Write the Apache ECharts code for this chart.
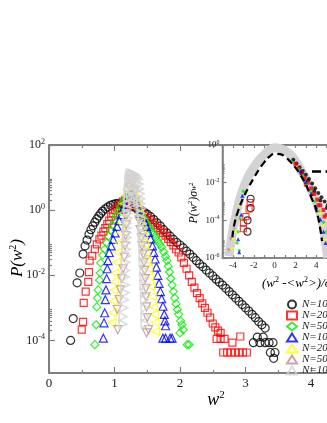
<!DOCTYPE html>
<html><head><meta charset="utf-8">
<script src="https://cdn.jsdelivr.net/npm/echarts@6/dist/echarts.min.js"></script>
<style>html,body{margin:0;padding:0;background:#fff}#c{width:327px;height:423px}</style>
</head><body><div id="c"></div>
<script>
// ---------- data (x = w^2, y = log10 P) ----------
const seriesNames = ['N=100','N=200','N=500','N=1000','N=2000','N=5000','N=10000'];
const seriesColors = ['#000000','#ff0000','#00ee00','#0000ff','#ffff00','#bc8f8f','#d3d3d3'];
const seriesSymbols = ['circle','rect','diamond','triangle','triangle','triangle','triangle'];
const seriesRotate = [0,0,0,0,90,180,-90];

const mainXTicks = [0,1,2,3,4,5];
const mainYLabels = [-4,-2,0,2];
const insetXLabels = [-4,-2,0,2,4,6];
const insetYLabels = [-6,-4,-2,0];

const n100 = [[0.33,-4.0],[0.37,-3.33],[0.43,-2.23],[0.47,-1.93],[0.52,-1.35],[0.55,-1.1],[0.58,-0.92],[0.61,-0.74],[0.64,-0.6],[0.67,-0.48],[0.70,-0.37],[0.73,-0.27],[0.76,-0.18],[0.79,-0.1],[0.82,-0.03],[0.86,0.04],[0.90,0.1],[0.94,0.15],[0.98,0.18],[1.02,0.2],[1.06,0.21],[1.10,0.21],[1.14,0.2],[1.18,0.18],[1.22,0.16],[1.26,0.13],[1.30,0.1],[1.34,0.06],[1.38,0.02],[1.42,-0.03],[1.46,-0.07],[1.50,-0.12],[1.55,-0.2],[1.60,-0.29],[1.65,-0.39],[1.70,-0.49],[1.75,-0.6],[1.80,-0.7],[1.85,-0.8],[1.90,-0.9],[1.95,-0.99],[2.00,-1.07],[2.05,-1.16],[2.10,-1.26],[2.15,-1.35],[2.20,-1.45],[2.25,-1.55],[2.30,-1.65],[2.35,-1.74],[2.40,-1.84],[2.45,-1.93],[2.50,-2.02],[2.55,-2.12],[2.60,-2.21],[2.65,-2.3],[2.70,-2.4],[2.75,-2.5],[2.80,-2.6],[2.85,-2.7],[2.90,-2.8],[2.95,-2.9],[3.00,-3.0],[3.05,-3.1],[3.10,-3.2],[3.15,-3.3],[3.20,-3.42],[3.25,-3.52],[3.30,-3.62],[3.18,-3.9],[3.27,-3.9],[3.12,-4.07],[3.22,-4.07],[3.30,-4.07],[3.36,-4.07],[3.42,-4.07],[3.38,-4.37],[3.45,-4.37],[3.43,-4.55]];
const n200 = [[0.50,-3.67],[0.52,-3.43],[0.53,-2.85],[0.56,-2.5],[0.60,-2.2],[0.61,-1.9],[0.62,-1.55],[0.66,-1.4],[0.70,-1.2],[0.73,-1.05],[0.77,-0.9],[0.80,-0.78],[0.83,-0.66],[0.86,-0.55],[0.89,-0.43],[0.92,-0.32],[0.95,-0.2],[0.98,-0.1],[1.01,0.0],[1.04,0.08],[1.07,0.15],[1.10,0.21],[1.13,0.26],[1.16,0.3],[1.19,0.32],[1.22,0.31],[1.25,0.28],[1.28,0.22],[1.31,0.15],[1.34,0.08],[1.38,0.0],[1.42,-0.08],[1.46,-0.16],[1.50,-0.24],[1.54,-0.3],[1.58,-0.38],[1.62,-0.46],[1.66,-0.55],[1.70,-0.62],[1.74,-0.7],[1.78,-0.78],[1.82,-0.88],[1.86,-0.98],[1.90,-1.08],[1.94,-1.2],[1.98,-1.3],[2.02,-1.45],[2.06,-1.62],[2.10,-1.8],[2.14,-2.0],[2.18,-2.2],[2.22,-2.38],[2.26,-2.55],[2.30,-2.7],[2.34,-2.86],[2.38,-3.0],[2.42,-3.15],[2.46,-3.3],[2.50,-3.48],[2.54,-3.6],[2.58,-3.7],[2.62,-3.77],[2.56,-3.95],[2.62,-3.95],[2.68,-3.95],[2.80,-4.07],[2.92,-3.88],[2.66,-4.37],[2.72,-4.37],[2.78,-4.37],[2.84,-4.37],[2.90,-4.37],[2.96,-4.37],[3.02,-4.37]];
const n500 = [[0.70,-4.13],[0.72,-3.52],[0.73,-2.97],[0.74,-2.7],[0.75,-2.45],[0.77,-2.15],[0.78,-1.93],[0.79,-1.62],[0.82,-1.38],[0.85,-1.2],[0.88,-1.0],[0.91,-0.8],[0.94,-0.62],[0.97,-0.46],[1.00,-0.3],[1.03,-0.16],[1.06,-0.03],[1.09,0.1],[1.12,0.22],[1.15,0.32],[1.18,0.4],[1.21,0.44],[1.24,0.44],[1.27,0.4],[1.30,0.32],[1.33,0.22],[1.36,0.1],[1.39,-0.02],[1.42,-0.14],[1.45,-0.26],[1.48,-0.37],[1.51,-0.48],[1.54,-0.56],[1.57,-0.65],[1.60,-0.74],[1.63,-0.84],[1.66,-0.94],[1.69,-1.04],[1.72,-1.14],[1.75,-1.28],[1.78,-1.42],[1.80,-1.55],[1.82,-1.72],[1.84,-1.9],[1.86,-2.1],[1.88,-2.3],[1.90,-2.5],[1.92,-2.7],[1.94,-2.88],[1.96,-3.05],[1.98,-3.2],[2.01,-3.4],[2.03,-3.52],[2.05,-3.67],[2.00,-3.77],[2.11,-4.13],[2.14,-4.13]];
const n1000 = [[0.83,-3.93],[0.84,-3.46],[0.85,-3.15],[0.86,-2.75],[0.87,-2.45],[0.88,-2.1],[0.89,-1.8],[0.90,-1.55],[0.92,-1.3],[0.95,-1.1],[0.98,-0.9],[1.01,-0.7],[1.04,-0.5],[1.07,-0.32],[1.10,-0.14],[1.13,0.04],[1.16,0.2],[1.19,0.35],[1.22,0.46],[1.25,0.52],[1.28,0.48],[1.31,0.36],[1.34,0.2],[1.37,0.04],[1.40,-0.1],[1.43,-0.22],[1.46,-0.35],[1.49,-0.5],[1.52,-0.68],[1.55,-0.88],[1.58,-1.1],[1.60,-1.3],[1.62,-1.5],[1.64,-1.75],[1.66,-2.0],[1.68,-2.25],[1.70,-2.5],[1.72,-2.72],[1.74,-2.95],[1.76,-3.2],[1.77,-3.4],[1.78,-3.55],[1.74,-3.93],[1.78,-3.93],[1.85,-3.93],[1.88,-3.93]];
const n2000 = [[0.96,-3.46],[0.97,-3.15],[0.98,-2.8],[0.99,-2.45],[1.00,-2.2],[1.01,-1.93],[1.03,-1.6],[1.05,-1.3],[1.07,-1.0],[1.09,-0.7],[1.11,-0.4],[1.13,-0.1],[1.15,0.2],[1.17,0.45],[1.19,0.62],[1.22,0.73],[1.25,0.72],[1.28,0.6],[1.31,0.42],[1.34,0.22],[1.36,0.06],[1.38,-0.1],[1.40,-0.3],[1.42,-0.55],[1.44,-0.8],[1.46,-1.05],[1.48,-1.3],[1.50,-1.55],[1.52,-1.8],[1.54,-2.05],[1.56,-2.35],[1.58,-2.65],[1.60,-2.97],[1.61,-3.2],[1.62,-3.45],[1.63,-3.73]];
const n5000 = [[1.05,-3.67],[1.04,-3.05],[1.07,-2.75],[1.09,-2.45],[1.11,-2.1],[1.13,-1.8],[1.15,-1.45],[1.16,-1.1],[1.17,-0.78],[1.18,-0.45],[1.19,-0.15],[1.20,0.15],[1.22,0.45],[1.23,0.7],[1.25,0.88],[1.27,0.94],[1.29,0.85],[1.31,0.6],[1.33,0.3],[1.35,0.0],[1.37,-0.3],[1.39,-0.6],[1.41,-0.85],[1.42,-1.1],[1.44,-1.35],[1.45,-1.6],[1.46,-1.85],[1.47,-2.1],[1.48,-2.4],[1.48,-2.66],[1.49,-2.97],[1.50,-3.3],[1.52,-3.67],[1.49,-3.77]];
const n10000 = [[1.13,-3.5],[1.13,-3.27],[1.14,-3.0],[1.15,-2.75],[1.16,-2.54],[1.16,-2.3],[1.16,-2.05],[1.17,-1.85],[1.17,-1.6],[1.18,-1.4],[1.18,-1.2],[1.18,-1.0],[1.19,-0.85],[1.19,-0.7],[1.19,-0.55],[1.19,-0.4],[1.20,-0.25],[1.20,-0.1],[1.20,0.05],[1.20,0.2],[1.21,0.35],[1.21,0.5],[1.21,0.65],[1.22,0.8],[1.22,0.95],[1.23,1.05],[1.24,1.12],[1.26,1.13],[1.28,1.12],[1.30,1.1],[1.32,1.07],[1.34,1.02],[1.36,0.95],[1.37,0.8],[1.38,0.65],[1.39,0.5],[1.40,0.35],[1.40,0.2],[1.41,0.05],[1.41,-0.1],[1.42,-0.25],[1.42,-0.4],[1.42,-0.55],[1.43,-0.7],[1.43,-0.85],[1.43,-1.0],[1.44,-1.2],[1.44,-1.4],[1.44,-1.6],[1.45,-1.85],[1.45,-2.05],[1.45,-2.3],[1.46,-2.54],[1.46,-2.75],[1.47,-3.0],[1.47,-3.27],[1.47,-3.5],[1.26,0.95],[1.30,0.95],[1.33,0.85],[1.26,0.75],[1.31,0.75],[1.28,0.6],[1.34,0.6],[1.25,0.4],[1.32,0.4],[1.29,0.2],[1.36,0.25]];

// inset: x = (w^2-<w^2>)/sigma, y = log10(P sigma)
const insetBand = [[-4.4,-5.9],[-4.2,-5.2],[-4.0,-4.5],[-3.7,-3.7],[-3.4,-3.0],[-3.0,-2.3],[-2.5,-1.65],[-2.0,-1.2],[-1.5,-0.82],[-1.0,-0.52],[-0.5,-0.28],[0,-0.15],[0.5,-0.18],[1.0,-0.3],[1.5,-0.5],[2.0,-0.85],[2.5,-1.3],[3.0,-1.8],[3.5,-2.35],[4.0,-3.0],[4.4,-3.7],[4.7,-4.4],[4.9,-5.2],[5.1,-6.0]];
const insetDashed = [[-4.05,-4.9],[-3.9,-4.3],[-3.5,-3.5],[-3.0,-2.8],[-2.5,-2.25],[-2.0,-1.76],[-1.5,-1.3],[-1.0,-0.92],[-0.5,-0.62],[0,-0.47],[0.5,-0.48],[1.0,-0.62],[1.5,-0.88],[2.0,-1.2],[2.5,-1.6],[3.0,-2.1],[3.5,-2.75],[4.0,-3.46],[4.4,-4.5],[4.55,-5.1]];
const insetOpen100 = [[-2.3,-2.85],[-2.3,-3.35],[-2.6,-4.0],[-2.6,-4.6]];
const insetOpen200 = [[-2.35,-3.05],[-2.45,-3.4],[-2.75,-3.8],[-3.0,-4.15],[-3.0,-4.45]];
const insetDots100 = [[1.8,-0.78],[2.1,-0.98],[2.4,-1.18],[2.7,-1.38],[3.0,-1.58],[3.3,-1.8],[3.6,-2.05],[3.9,-2.3],[4.2,-2.55],[4.5,-2.78],[4.8,-3.0],[5.1,-3.2],[2.6,-1.5],[3.2,-1.9],[3.8,-2.45],[4.4,-2.95],[5.0,-3.35]];
const insetDots200 = [[2.0,-1.0],[2.3,-1.25],[2.6,-1.5],[2.9,-1.75],[3.2,-2.0],[3.5,-2.3],[3.8,-2.6],[4.1,-2.9],[4.4,-3.2],[4.7,-3.45],[5.0,-3.7],[3.0,-2.1],[3.6,-2.6],[4.2,-3.2],[4.8,-3.8]];
const insetDots500 = [[-3.0,-2.45],[-3.3,-3.9],[-3.5,-4.6],[-3.6,-5.2],[-3.4,-5.6],[2.3,-1.3],[2.7,-1.65],[3.1,-2.05],[3.5,-2.5],[3.9,-3.0],[4.3,-3.55],[4.7,-4.1],[5.0,-4.6]];
const insetDots1000 = [[-3.1,-2.7],[-3.2,-3.7],[-3.5,-5.0],[-3.4,-5.7],[2.5,-1.4],[3.0,-1.95],[3.5,-2.6],[4.0,-3.3],[4.4,-3.95],[4.7,-4.6],[4.9,-5.2]];
const insetDots2000 = [[-3.4,-3.2],[-3.8,-4.6],[-4.0,-5.0],[-4.2,-5.5],[4.3,-3.6],[4.6,-4.3],[4.8,-5.0]];
const insetDots5000 = [[-3.7,-3.8],[-3.9,-4.5],[-4.2,-5.0],[-4.4,-5.6]];
const insetDots10000 = [[-4.0,-4.5],[-4.3,-5.2],[-4.5,-5.7]];
const dashedName = 'Gaussian';

// ---------- build ----------
const mainData = [n100,n200,n500,n1000,n2000,n5000,n10000];
const insetDots = [insetDots100,insetDots200,insetDots500,insetDots1000,insetDots2000,insetDots5000,insetDots10000];
function minorList(decades){const r=[];decades.forEach(n=>{for(let k=2;k<=9;k++)r.push(n+Math.log10(k));});return r;}
const SERIF = '"Liberation Serif", "DejaVu Serif", serif';
const AX = '#7f7f7f';
const supRich = (big, small, raise) => ({
  b:{fontSize:big,fontFamily:SERIF,color:'#222'},
  s:{fontSize:small,fontFamily:SERIF,color:'#222',padding:[0,0,raise,0]}
});

const series = [];
mainData.forEach((d,i)=>{
  series.push({name:seriesNames[i],type:'scatter',xAxisIndex:0,yAxisIndex:0,data:d,
    symbol:seriesSymbols[i],symbolRotate:seriesRotate[i],
    symbolSize: i===1?7:8,
    itemStyle:{color:'rgba(255,255,255,0)',borderColor:seriesColors[i],borderWidth:i===6?1.6:1.2},
    z:2,silent:true});
});
series.push({name:'band',type:'line',xAxisIndex:2,yAxisIndex:2,data:insetBand,symbol:'none',smooth:true,
  lineStyle:{color:'#d3d3d3',width:9},z:12,silent:true});
insetDots.forEach((d,i)=>{
  series.push({name:seriesNames[i],type:'scatter',xAxisIndex:2,yAxisIndex:2,data:d,
    symbol:seriesSymbols[i],symbolRotate:seriesRotate[i],symbolSize:4,
    itemStyle:{color:seriesColors[i]},z:13,silent:true});
});
series.push({name:seriesNames[0],type:'scatter',xAxisIndex:2,yAxisIndex:2,data:insetOpen100,symbol:'circle',symbolSize:7,
  itemStyle:{color:'rgba(255,255,255,0)',borderColor:'#000',borderWidth:1.1},z:14,silent:true});
series.push({name:seriesNames[1],type:'scatter',xAxisIndex:2,yAxisIndex:2,data:insetOpen200,symbol:'rect',symbolSize:6,
  itemStyle:{color:'rgba(255,255,255,0)',borderColor:'#f00',borderWidth:1.1},z:14,silent:true});
series.push({name:dashedName,type:'line',xAxisIndex:2,yAxisIndex:2,data:insetDashed,symbol:'none',smooth:true,
  lineStyle:{color:'#000',width:2.2,type:[7,4]},itemStyle:{color:'#000'},z:15,silent:true});

const tickStyle = {lineStyle:{color:AX,width:1.2}};
const option = {
  animation:false,
  backgroundColor:'#fff',
  grid:[
    {left:49,top:145,width:327.5,height:228,show:false,outerBoundsMode:'none',containLabel:false},
    {left:222.5,top:145,width:125,height:113,show:true,backgroundColor:'#fff',borderColor:AX,borderWidth:1.5,z:10,outerBoundsMode:'none',containLabel:false}
  ],
  xAxis:[
    {gridIndex:0,type:'value',min:0,max:5,interval:1,position:'bottom',
      axisLine:{onZero:false,lineStyle:{color:AX,width:2}},
      axisTick:{inside:true,length:6,...tickStyle},
      minorTick:{show:true,splitNumber:2,length:3,lineStyle:{color:AX,width:1.2}},
      axisLabel:{fontFamily:SERIF,fontSize:13,color:'#222',margin:4},splitLine:{show:false}},
    {gridIndex:0,type:'value',min:0,max:5,interval:1,position:'top',
      axisLine:{onZero:false,lineStyle:{color:AX,width:2}},
      axisTick:{inside:true,length:6,...tickStyle},
      minorTick:{show:true,splitNumber:2,length:3,lineStyle:{color:AX,width:1.2}},
      axisLabel:{show:false},splitLine:{show:false}},
    {gridIndex:1,type:'value',min:-5,max:7,interval:1,position:'bottom',z:11,
      axisLine:{onZero:false,lineStyle:{color:AX,width:1.5}},
      axisTick:{inside:true,length:3,...tickStyle},
      axisLabel:{customValues:insetXLabels,fontFamily:SERIF,fontSize:9,color:'#222',margin:3},splitLine:{show:false}},
    {gridIndex:1,type:'value',min:-5,max:7,interval:1,position:'top',z:11,
      axisLine:{onZero:false,lineStyle:{color:AX,width:1.5}},
      axisTick:{inside:true,length:3,...tickStyle},
      axisLabel:{show:false},splitLine:{show:false}}
  ],
  yAxis:[
    {gridIndex:0,type:'value',min:-5,max:2,interval:1,position:'left',
      axisLine:{onZero:false,lineStyle:{color:AX,width:2}},
      axisTick:{inside:true,length:6,customValues:mainYLabels,...tickStyle},
      axisLabel:{customValues:mainYLabels,margin:4,formatter:v=>'{b|10}{s|'+v+'}',rich:supRich(12,8,7)},
      splitLine:{show:false}},
    {gridIndex:0,type:'value',min:-5,max:2,interval:1,position:'left',
      axisLine:{onZero:false,show:false},
      axisTick:{inside:true,length:3,customValues:minorList([0,-2,-4]),...tickStyle},
      axisLabel:{show:false},splitLine:{show:false}},
    {gridIndex:1,type:'value',min:-6,max:0,interval:1,z:11,position:'left',
      axisLine:{onZero:false,lineStyle:{color:AX,width:1.5}},
      axisTick:{inside:true,length:4,customValues:insetYLabels,...tickStyle},
      axisLabel:{customValues:insetYLabels,margin:3,formatter:v=>'{b|10}{s|'+v+'}',rich:supRich(9,6,5)},
      splitLine:{show:false}},
    {gridIndex:1,type:'value',min:-6,max:0,interval:1,z:11,position:'left',
      axisLine:{onZero:false,show:false},
      axisTick:{inside:true,length:2,customValues:minorList([-2,-4,-6]),...tickStyle},
      axisLabel:{show:false},splitLine:{show:false}}
  ],
  legend:[
    {data:seriesNames,orient:'vertical',left:281,top:294,itemWidth:10,itemHeight:8,itemGap:0,
      textStyle:{fontFamily:SERIF,fontStyle:'italic',fontSize:11,color:'#222',lineHeight:8},selectedMode:false},
    {data:[{name:dashedName,icon:'path://M0,0h10v3h-10zM15,0h10v3h-10zM30,0h10v3h-10z'}],left:307,top:161,itemWidth:36,itemHeight:3,z:20,
      itemStyle:{color:'#000'},
      textStyle:{fontFamily:SERIF,fontStyle:'italic',fontSize:11,color:'#222'},selectedMode:false}
  ],
  graphic:[
    {type:'text',x:18,y:258,rotation:Math.PI/2,z:100,
      style:{text:'{a|P(w}{s|2}{a|)}',align:'center',verticalAlign:'middle',
        rich:{a:{fontFamily:SERIF,fontStyle:'italic',fontSize:17,color:'#222'},s:{fontFamily:SERIF,fontSize:10,color:'#222',padding:[0,0,9,0]}}}},
    {type:'text',x:216,y:400,z:100,
      style:{text:'{a|w}{s|2}',align:'center',verticalAlign:'middle',
        rich:{a:{fontFamily:SERIF,fontStyle:'italic',fontSize:18,color:'#222'},s:{fontFamily:SERIF,fontSize:11,color:'#222',padding:[0,0,10,0]}}}},
    {type:'text',x:194,y:203,rotation:Math.PI/2,z:100,
      style:{text:'{a|P(w}{s|2}{a|)σ}{u|w}{s2|2}',align:'center',verticalAlign:'middle',
        rich:{a:{fontFamily:SERIF,fontStyle:'italic',fontSize:12,color:'#222'},
          s:{fontFamily:SERIF,fontSize:7,color:'#222',padding:[0,0,7,0]},
          u:{fontFamily:SERIF,fontStyle:'italic',fontSize:8,color:'#222'},
          s2:{fontFamily:SERIF,fontSize:6,color:'#222',padding:[0,0,6,0]}}}},
    {type:'text',x:262,y:284,z:100,
      style:{text:'{a|(w}{s|2}{a| -<w}{s|2}{a|>)/σ}{u|w}{s|2}',align:'left',verticalAlign:'middle',
        rich:{a:{fontFamily:SERIF,fontStyle:'italic',fontSize:13,color:'#222'},
          s:{fontFamily:SERIF,fontSize:8,color:'#222',padding:[0,0,8,0]},
          u:{fontFamily:SERIF,fontStyle:'italic',fontSize:9,color:'#222'}}}}
  ],
  series:series
};
const chart = echarts.init(document.getElementById('c'),null,{renderer:'canvas'});
chart.setOption(option);
</script></body></html>
